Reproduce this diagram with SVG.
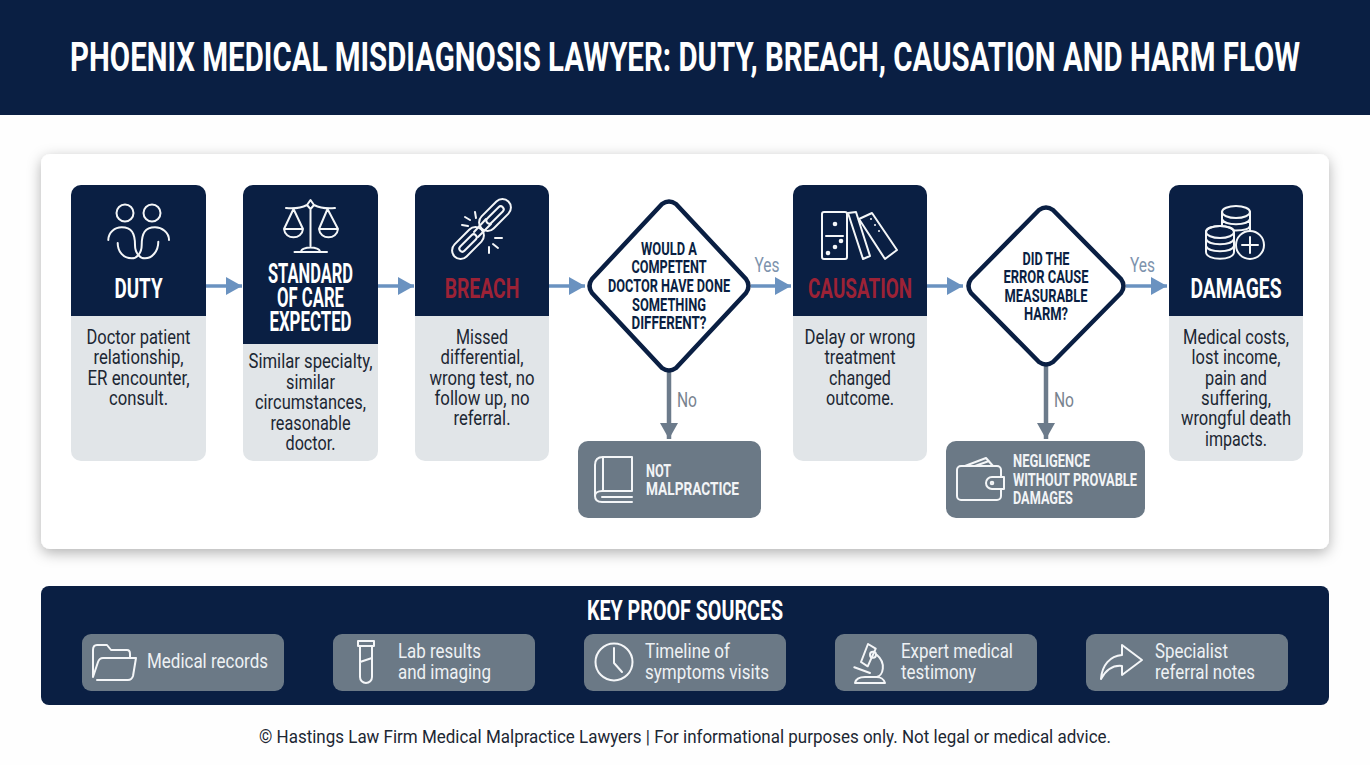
<svg xmlns="http://www.w3.org/2000/svg" width="1370" height="765" viewBox="0 0 1370 765">
<style>
text{font-family:"Roboto","Liberation Sans",sans-serif;text-anchor:middle;lengthAdjust:spacingAndGlyphs}
.hd{font-weight:700}
.t{font-size:28px;fill:#fff}
.r{fill:#9c2236}
.b{font-size:20.500px;fill:#1c2733}
.d{font-size:19px;fill:#0a1f43}
.g{font-size:19px;fill:#f2f4f6;text-anchor:start}
.c{font-size:20.500px;fill:#eef1f4;text-anchor:start}
.l{font-size:20px}
.ly{fill:#7d93ad}
.ln{fill:#78838f}
.navy{fill:#0a1f43}
.body{fill:#e1e5e8}
.grey{fill:#6b7986}
.i{fill:none;stroke:#f4f6f8;stroke-width:2;stroke-linecap:round;stroke-linejoin:round}
.h{stroke:#6a92c0;stroke-width:3.500;fill:none}
.v{stroke:#6c7b8b;stroke-width:4.500;fill:none}
.dm{fill:#fff;stroke:#0a1f43;stroke-width:4.500;stroke-linejoin:round}
</style>
<defs>
<filter id="sh" x="-5%" y="-10%" width="110%" height="125%"><feDropShadow dx="0" dy="4" stdDeviation="7" flood-color="#000" flood-opacity=".3"/></filter>
<marker id="ah" markerUnits="userSpaceOnUse" markerWidth="16" markerHeight="18" refX="16" refY="9" orient="auto"><path d="M0 0L16 9L0 18Z" fill="#6a92c0"/></marker>
<marker id="av" markerUnits="userSpaceOnUse" markerWidth="18" markerHeight="18" refX="16" refY="9" orient="auto"><path d="M0 0L16 9L0 18Z" fill="#6c7b8b"/></marker>
</defs>
<rect width="1370" height="765" fill="#fefefe"/>
<g id="header"><rect width="1370" height="115" class="navy"/>
<g transform="translate(685 0) scale(.74 1)"><text class="hd" y="71" font-size="40" fill="#fff" textLength="1662" lengthAdjust="spacingAndGlyphs">PHOENIX MEDICAL MISDIAGNOSIS LAWYER: DUTY, BREACH, CAUSATION AND HARM FLOW</text></g></g>
<rect id="panel" x="41" y="154" width="1288" height="395" rx="9" fill="#fff" filter="url(#sh)"/>

<g id="connectors">
<path class="h" marker-end="url(#ah)" d="M206 286H242"/>
<path class="h" marker-end="url(#ah)" d="M378 286H414"/>
<path class="h" marker-end="url(#ah)" d="M549 286H585"/>
<path class="h" marker-end="url(#ah)" d="M751 286H791"/>
<path class="h" marker-end="url(#ah)" d="M927 286H963"/>
<path class="h" marker-end="url(#ah)" d="M1126 286H1167"/>
<path class="v" marker-end="url(#av)" d="M669 372V439"/>
<path class="v" marker-end="url(#av)" d="M1046 366V439"/>
<g transform="translate(767 0) scale(.83 1)"><text class="l ly" y="272" textLength="30.100" lengthAdjust="spacingAndGlyphs">Yes</text></g>
<g transform="translate(1142.500 0) scale(.83 1)"><text class="l ly" y="272" textLength="30.100" lengthAdjust="spacingAndGlyphs">Yes</text></g>
<g transform="translate(687 0) scale(.83 1)"><text class="l ln" y="407" textLength="24.100" lengthAdjust="spacingAndGlyphs">No</text></g>
<g transform="translate(1064 0) scale(.83 1)"><text class="l ln" y="407" textLength="24.100" lengthAdjust="spacingAndGlyphs">No</text></g>
</g>

<g id="duty">
<rect class="body" x="71" y="185" width="135" height="276" rx="10"/>
<path class="navy" d="M71 316V195a10 10 0 0 1 10-10H196a10 10 0 0 1 10 10V316Z"/>
<g class="i"><circle cx="125" cy="213" r="8.500"/><circle cx="152" cy="213" r="8.500"/>
<path d="M108.300 240C108.300 232 115 227.300 121.700 227.300C131.700 227.300 135 233.300 135 245C135 253.300 140 258.300 145 258.300C151.700 258.300 158.300 251.700 158.300 241.700"/>
<path d="M169 240C169 232 161.700 227.300 155 227.300C145 227.300 141.700 233.300 141.700 245C141.700 253.300 136.700 258.300 131.700 258.300C123.300 258.300 117.700 251.700 117.700 243"/></g>
<g transform="translate(138.500 0) scale(.74 1)"><text class="hd t" y="298" textLength="65" lengthAdjust="spacingAndGlyphs">DUTY</text></g>
<g transform="translate(138.500 0) scale(.83 1)">
<text class="b" y="344" textLength="125.300" lengthAdjust="spacingAndGlyphs">Doctor patient</text>
<text class="b" y="364" textLength="108.400" lengthAdjust="spacingAndGlyphs">relationship,</text>
<text class="b" y="385" textLength="122.900" lengthAdjust="spacingAndGlyphs">ER encounter,</text>
<text class="b" y="405" textLength="71.100" lengthAdjust="spacingAndGlyphs">consult.</text></g>
</g>

<g id="standard">
<rect class="body" x="243" y="185" width="135" height="276" rx="10"/>
<path class="navy" d="M243 344V195a10 10 0 0 1 10-10H368a10 10 0 0 1 10 10V344Z"/>
<g class="i"><path d="M310.500 210V246M286 208C295 209 303 207 307 205M335 208C326 209 318 207 314 205M310.500 200L314 205L310.500 209L307 205ZM294.500 252H327M301 252C301 246 320 246 320 252"/>
<path d="M293.500 209L284 229H303ZM284 229C285 240 302 240 303 229M327.500 209L319 229H338ZM319 229C320 240 337 240 338 229"/></g>
<g transform="translate(310.500 0) scale(.74 1)">
<text class="hd t" y="283" textLength="115" lengthAdjust="spacingAndGlyphs">STANDARD</text>
<text class="hd t" y="307" textLength="90.500" lengthAdjust="spacingAndGlyphs">OF CARE</text>
<text class="hd t" y="331" textLength="111" lengthAdjust="spacingAndGlyphs">EXPECTED</text></g>
<g transform="translate(310.500 0) scale(.83 1)">
<text class="b" y="368" textLength="149.400" lengthAdjust="spacingAndGlyphs">Similar specialty,</text>
<text class="b" y="389" textLength="59" lengthAdjust="spacingAndGlyphs">similar</text>
<text class="b" y="409" textLength="133.700" lengthAdjust="spacingAndGlyphs">circumstances,</text>
<text class="b" y="430" textLength="96.400" lengthAdjust="spacingAndGlyphs">reasonable</text>
<text class="b" y="450" textLength="60.200" lengthAdjust="spacingAndGlyphs">doctor.</text></g>
</g>

<g id="breach">
<rect class="body" x="415" y="185" width="134" height="276" rx="10"/>
<path class="navy" d="M415 316V195a10 10 0 0 1 10-10H539a10 10 0 0 1 10 10V316Z"/>
<g class="i"><rect x="476" y="206.500" width="38" height="17" rx="8.500" transform="rotate(-45 495 215)"/>
<rect x="449" y="234.500" width="38" height="17" rx="8.500" transform="rotate(-45 468 243)"/>
<rect x="484" y="212" width="22" height="6" rx="3" transform="rotate(-45 495 215)"/>
<rect x="457" y="240" width="22" height="6" rx="3" transform="rotate(-45 468 243)"/>
<path d="M474 232L486 219M478 237L491 224"/>
<path d="M462 225L468 226M465 217L470 220M475 212L476 218M495 238L502 238M493 244L498 248M489 247L489 253"/></g>
<g transform="translate(482 0) scale(.74 1)"><text class="hd t r" y="298" textLength="101" lengthAdjust="spacingAndGlyphs">BREACH</text></g>
<g transform="translate(482 0) scale(.83 1)">
<text class="b" y="344" textLength="62.700" lengthAdjust="spacingAndGlyphs">Missed</text>
<text class="b" y="364" textLength="100" lengthAdjust="spacingAndGlyphs">differential,</text>
<text class="b" y="385" textLength="126.500" lengthAdjust="spacingAndGlyphs">wrong test, no</text>
<text class="b" y="405" textLength="114.500" lengthAdjust="spacingAndGlyphs">follow up, no</text>
<text class="b" y="425" textLength="68.700" lengthAdjust="spacingAndGlyphs">referral.</text></g>
</g>

<g id="decision-competent">
<path class="dm" d="M662 204Q669 199 676 204L746 279Q751 286 746 293L676 368Q669 373 662 368L592 293Q587 286 592 279Z"/>
<g transform="translate(669 0) scale(.74 1)">
<text class="hd d" y="255" textLength="75.700" lengthAdjust="spacingAndGlyphs">WOULD A</text>
<text class="hd d" y="273" textLength="101.400" lengthAdjust="spacingAndGlyphs">COMPETENT</text>
<text class="hd d" y="292" textLength="165" lengthAdjust="spacingAndGlyphs">DOCTOR HAVE DONE</text>
<text class="hd d" y="311" textLength="100" lengthAdjust="spacingAndGlyphs">SOMETHING</text>
<text class="hd d" y="329" textLength="101.400" lengthAdjust="spacingAndGlyphs">DIFFERENT?</text></g>
</g>

<g id="not-malpractice">
<rect class="grey" x="578" y="441" width="183" height="77" rx="10"/>
<g class="i"><path d="M632 457H603C598 457 595 460 595 465V496C595 500 598 502 602 502H632M632 457V491H602C598 491 595 493 595 496M602 497H632"/><path d="M603 457V491"/></g>
<g transform="translate(646 0) scale(.74 1)">
<text class="hd g" y="477" textLength="34" lengthAdjust="spacingAndGlyphs">NOT</text>
<text class="hd g" y="495" textLength="125.700" lengthAdjust="spacingAndGlyphs">MALPRACTICE</text></g>
</g>

<g id="causation">
<rect class="body" x="793" y="185" width="134" height="276" rx="10"/>
<path class="navy" d="M793 316V195a10 10 0 0 1 10-10H917a10 10 0 0 1 10 10V316Z"/>
<g class="i"><rect x="822" y="212" width="25" height="47" rx="2"/><path d="M826 236H843"/>
<path d="M848 213L856 212L870 256L863 259ZM859 219L872 213L897 250L885 259Z"/></g>
<g fill="#f4f6f8"><circle cx="835" cy="224" r="2.300"/><circle cx="841" cy="241" r="2.300"/><circle cx="835" cy="247" r="2.300"/><circle cx="828" cy="253" r="2.300"/><circle cx="871" cy="219" r="1"/><circle cx="875" cy="225" r="1"/><circle cx="879" cy="231" r="1"/></g>
<g transform="translate(860 0) scale(.74 1)"><text class="hd t r" y="298" textLength="140.500" lengthAdjust="spacingAndGlyphs">CAUSATION</text></g>
<g transform="translate(860 0) scale(.83 1)">
<text class="b" y="344" textLength="133.700" lengthAdjust="spacingAndGlyphs">Delay or wrong</text>
<text class="b" y="364" textLength="85.500" lengthAdjust="spacingAndGlyphs">treatment</text>
<text class="b" y="385" textLength="74.700" lengthAdjust="spacingAndGlyphs">changed</text>
<text class="b" y="405" textLength="81.900" lengthAdjust="spacingAndGlyphs">outcome.</text></g>
</g>

<g id="decision-harm">
<path class="dm" d="M1039 210Q1046 205 1053 210L1121 279Q1126 286 1121 293L1053 362Q1046 367 1039 362L971 293Q966 286 971 279Z"/>
<g transform="translate(1046 0) scale(.74 1)">
<text class="hd d" y="265" textLength="63.500" lengthAdjust="spacingAndGlyphs">DID THE</text>
<text class="hd d" y="283" textLength="115" lengthAdjust="spacingAndGlyphs">ERROR CAUSE</text>
<text class="hd d" y="302" textLength="112" lengthAdjust="spacingAndGlyphs">MEASURABLE</text>
<text class="hd d" y="320" textLength="59.500" lengthAdjust="spacingAndGlyphs">HARM?</text></g>
</g>

<g id="negligence">
<rect class="grey" x="946" y="441" width="199" height="77" rx="10"/>
<g class="i"><rect x="957" y="466" width="44" height="34" rx="4"/><path d="M965 466L986 458L993 466M975 466L989 461"/><path d="M1004 477H992a5.500 5.500 0 0 0 0 12H1004Z" fill="#6b7986"/><circle cx="992" cy="483" r="1.300"/></g>
<g transform="translate(1013 0) scale(.74 1)">
<text class="hd g" y="467" textLength="104" lengthAdjust="spacingAndGlyphs">NEGLIGENCE</text>
<text class="hd g" y="486" textLength="167.600" lengthAdjust="spacingAndGlyphs">WITHOUT PROVABLE</text>
<text class="hd g" y="504" textLength="81" lengthAdjust="spacingAndGlyphs">DAMAGES</text></g>
</g>

<g id="damages">
<rect class="body" x="1169" y="185" width="134" height="276" rx="10"/>
<path class="navy" d="M1169 316V195a10 10 0 0 1 10-10H1293a10 10 0 0 1 10 10V316Z"/>
<g class="i"><ellipse cx="1236" cy="212" rx="14" ry="6"/><path d="M1222 212V226M1250 212V232M1222 219C1224 226 1248 226 1250 219M1222 226C1224 232 1248 232 1250 226"/>
<path style="fill:#0a1f43" d="M1206 232C1206 224 1234 224 1234 232V252C1234 261 1206 261 1206 252Z"/>
<ellipse cx="1220" cy="232" rx="14" ry="6"/><path d="M1206 239C1208 246 1232 246 1234 239M1206 246C1208 253 1232 253 1234 246"/>
<circle cx="1250" cy="245" r="14" style="fill:#0a1f43"/><path d="M1250 237V253M1242 245H1258"/></g>
<g transform="translate(1236 0) scale(.74 1)"><text class="hd t" y="298" textLength="123" lengthAdjust="spacingAndGlyphs">DAMAGES</text></g>
<g transform="translate(1236 0) scale(.83 1)">
<text class="b" y="344" textLength="127.700" lengthAdjust="spacingAndGlyphs">Medical costs,</text>
<text class="b" y="364" textLength="107.200" lengthAdjust="spacingAndGlyphs">lost income,</text>
<text class="b" y="385" textLength="74.700" lengthAdjust="spacingAndGlyphs">pain and</text>
<text class="b" y="405" textLength="84.300" lengthAdjust="spacingAndGlyphs">suffering,</text>
<text class="b" y="425" textLength="132.500" lengthAdjust="spacingAndGlyphs">wrongful death</text>
<text class="b" y="446" textLength="74.700" lengthAdjust="spacingAndGlyphs">impacts.</text></g>
</g>

<g id="key-proof">
<rect class="navy" x="41" y="586" width="1288" height="119" rx="8"/>
<g transform="translate(685 0) scale(.74 1)"><text class="hd" y="620" font-size="27" fill="#fff" textLength="265" lengthAdjust="spacingAndGlyphs">KEY PROOF SOURCES</text></g>
</g>
<g id="chip-records"><rect class="grey" x="82" y="634" width="202" height="57" rx="9"/>
<path class="i" d="M97 680H128C131 680 132 679 133 676L136 658H103C100 658 99 659 98 662L93 677V650C93 647 94 645 97 645H107L111 650H127C129 650 130 652 130 654V658"/>
<g transform="translate(147 0) scale(.83 1)"><text class="c" y="668" textLength="145.800" lengthAdjust="spacingAndGlyphs">Medical records</text></g></g>
<g id="chip-lab"><rect class="grey" x="333" y="634" width="202" height="57" rx="9"/>
<path class="i" d="M358 646H374V641H358ZM360 646V677a6 6 0 0 0 12 0V646M360 662L372 658"/>
<g transform="translate(398 0) scale(.83 1)"><text class="c" y="658" textLength="100" lengthAdjust="spacingAndGlyphs">Lab results</text>
<text class="c" y="679" textLength="112" lengthAdjust="spacingAndGlyphs">and imaging</text></g></g>
<g id="chip-timeline"><rect class="grey" x="584" y="634" width="202" height="57" rx="9"/>
<g class="i"><circle cx="614" cy="662" r="18.500"/><path d="M614 648V663L622 672"/></g>
<g transform="translate(645 0) scale(.83 1)"><text class="c" y="658" textLength="102.400" lengthAdjust="spacingAndGlyphs">Timeline of</text>
<text class="c" y="679" textLength="149.400" lengthAdjust="spacingAndGlyphs">symptoms visits</text></g></g>
<g id="chip-expert"><rect class="grey" x="835" y="634" width="202" height="57" rx="9"/>
<g class="i"><path d="M868 644L875.700 648.700L867.700 666.300L861 662Z"/><circle cx="873" cy="654.700" r="3"/>
<path d="M876.700 654.700C886.700 663 883 676 876.700 677M855 683H885C884 679 880 677 876.700 677H865C860 677 856 678 855 683ZM854.300 667.300L870 673"/></g>
<g transform="translate(901 0) scale(.83 1)"><text class="c" y="658" textLength="134.900" lengthAdjust="spacingAndGlyphs">Expert medical</text>
<text class="c" y="679" textLength="90.400" lengthAdjust="spacingAndGlyphs">testimony</text></g></g>
<g id="chip-referral"><rect class="grey" x="1086" y="634" width="202" height="57" rx="9"/>
<path class="i" d="M1101 679C1102 665 1110 656 1122 655V645L1142 660L1122 675V666C1113 665 1106 670 1101 679Z"/>
<g transform="translate(1155 0) scale(.83 1)"><text class="c" y="658" textLength="88" lengthAdjust="spacingAndGlyphs">Specialist</text>
<text class="c" y="679" textLength="120.500" lengthAdjust="spacingAndGlyphs">referral notes</text></g></g>
<text id="footer" x="685" y="743" font-size="19" fill="#1c2733" textLength="852" lengthAdjust="spacingAndGlyphs">© Hastings Law Firm Medical Malpractice Lawyers | For informational purposes only. Not legal or medical advice.</text>
</svg>
